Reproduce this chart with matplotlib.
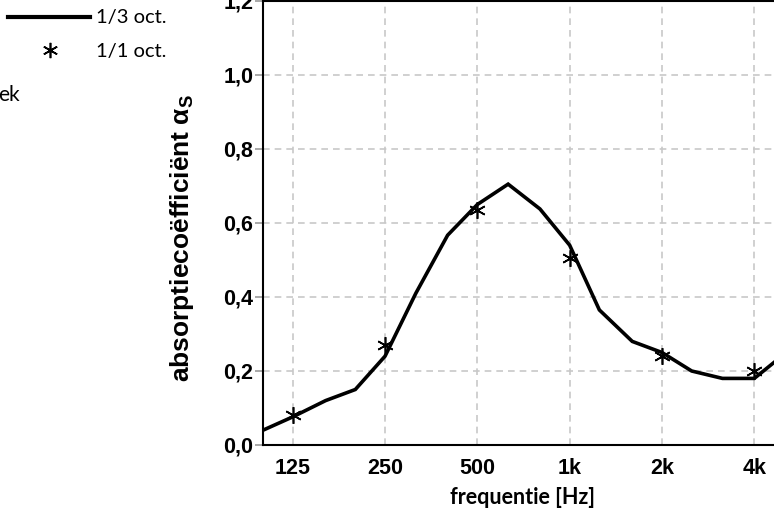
import matplotlib
matplotlib.use("Agg")
import matplotlib.pyplot as plt
import numpy as np

# 1/3 octave band data
freq_third = [100, 125, 160, 200, 250, 315, 400, 500, 630, 800, 1000, 1250,
              1600, 2000, 2500, 3150, 4000, 5000]
alpha_third = [0.04, 0.076, 0.12, 0.15, 0.24, 0.41, 0.567, 0.65, 0.705, 0.638,
               0.54, 0.365, 0.28, 0.25, 0.20, 0.18, 0.18, 0.245]

# 1/1 octave band data
freq_oct = [125, 250, 500, 1000, 2000, 4000]
alpha_oct = [0.08, 0.27, 0.635, 0.505, 0.24, 0.20]

xtick_vals = [125, 250, 500, 1000, 2000, 4000]
xtick_labels = ["125", "250", "500", "1k", "2k", "4k"]
ytick_vals = [0.0, 0.2, 0.4, 0.6, 0.8, 1.0, 1.2]
ytick_labels = ["0,0", "0,2", "0,4", "0,6", "0,8", "1,0", "1,2"]

W, H = 774, 515
fig = plt.figure(figsize=(W / 100, H / 100), dpi=100)
ax = fig.add_axes([263 / W, 70 / H, (784 - 263) / W, (445 - 1) / H])

ax.set_xscale("log", base=2)
ax.set_xlim(100, 5000)
ax.set_ylim(0, 1.2)

ax.plot(freq_third, alpha_third, color="black", lw=2.6, solid_joinstyle="miter", zorder=3)
ax.plot(freq_oct, alpha_oct, linestyle="none", marker=(6, 2, 0), markersize=12,
        markeredgewidth=1.2, color="black", zorder=4)

ax.set_xticks(xtick_vals)
ax.set_xticklabels(xtick_labels)
ax.xaxis.set_minor_locator(matplotlib.ticker.NullLocator())
ax.set_yticks(ytick_vals)
ax.set_yticklabels(ytick_labels)

for lab in ax.get_xticklabels() + ax.get_yticklabels():
    lab.set_family("Liberation Sans")
    lab.set_fontweight("bold")
    lab.set_fontsize(15.5)

ax.tick_params(axis="x", length=0, pad=9)
ax.tick_params(axis="y", length=6, width=1.2, color="#999999", pad=1)

ax.grid(True, which="major", color="#c8c8c8", linestyle=(0, (4, 3)), lw=1.2)
ax.set_axisbelow(True)

for s in ["left", "bottom", "top"]:
    ax.spines[s].set_linewidth(1.5)
    ax.spines[s].set_color("black")
ax.spines["right"].set_visible(False)

# Axis labels
fig.text(522 / W, 1 - 498 / H, "frequentie [Hz]", ha="center", va="center",
         fontsize=15.5, fontweight="bold", family="Lato")
fig.text(182 / W, 1 - 238 / H, r"absorptiecoëfficiënt $\mathregular{\alpha_S}$",
         rotation=90, ha="center", va="center", fontsize=19, fontweight="bold",
         family="Liberation Sans")

# Legend (partially visible)
fig.add_artist(matplotlib.lines.Line2D([8 / W, 90 / W], [1 - 17 / H, 1 - 17 / H],
                                       color="black", lw=3))
fig.add_artist(matplotlib.lines.Line2D([50 / W], [1 - 50 / H], marker=(6, 2, 0),
                                       markersize=11, markeredgewidth=1.2,
                                       color="black", linestyle="none"))
fig.text(96 / W, 1 - 18 / H, "1/3 oct.", ha="left", va="center", fontsize=14.5,
         family="Lato")
fig.text(96 / W, 1 - 51 / H, "1/1 oct.", ha="left", va="center", fontsize=14.5,
         family="Lato")
fig.text(-2 / W, 1 - 95 / H, "ek", ha="left", va="center", fontsize=15,
         family="Lato")

fig.savefig("out.png", dpi=100)
